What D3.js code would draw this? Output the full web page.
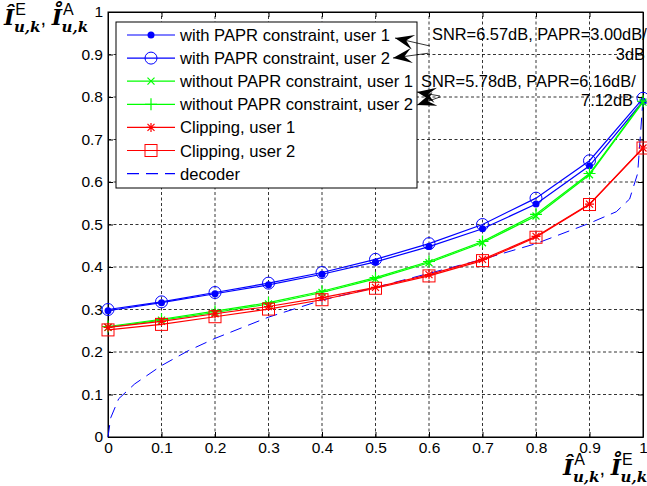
<!DOCTYPE html>
<html>
<head>
    <meta charset='utf-8'/>
    <title>EXIT chart</title>
    <style>
        body { margin: 0; background: #fff; }
        text { font-family: "Liberation Sans", Arial, sans-serif; }
        .grid line { stroke: #000; stroke-dasharray: 3,2.5; stroke-width: 0.8; }
        .math { font-family: "DejaVu Serif", "Liberation Serif", serif; font-style: italic; font-weight: bold; }
    </style>
</head>
<body>
<div id="chart"></div>
<script src="https://d3js.org/d3.v7.min.js"></script>
<script type="text/javascript">

    // data
    var xs = [0, 0.1, 0.2, 0.3, 0.4, 0.5, 0.6, 0.7, 0.8, 0.9, 1.0];
    var papr_u1 = [0.297, 0.316, 0.337, 0.358, 0.383, 0.412, 0.448, 0.490, 0.548, 0.638, 0.790];
    var papr_u2 = [0.300, 0.318, 0.340, 0.362, 0.387, 0.418, 0.455, 0.500, 0.562, 0.650, 0.797];
    var nopapr_u1 = [0.258, 0.275, 0.293, 0.313, 0.340, 0.372, 0.410, 0.457, 0.520, 0.617, 0.788];
    var nopapr_u2 = [0.260, 0.277, 0.296, 0.316, 0.343, 0.375, 0.413, 0.460, 0.524, 0.620, 0.790];
    var clip_u1 = [0.258, 0.272, 0.290, 0.307, 0.328, 0.352, 0.382, 0.418, 0.472, 0.548, 0.680];
    var clip_u2 = [0.252, 0.265, 0.283, 0.301, 0.323, 0.350, 0.379, 0.415, 0.470, 0.547, 0.680];
    var dec_x = [0, 0.005, 0.02, 0.05, 0.1, 0.15, 0.2, 0.3, 0.4, 0.5, 0.6, 0.7, 0.8, 0.9, 0.95, 0.975, 0.99, 1.0];
    var dec_y = [0, 0.045, 0.09, 0.125, 0.168, 0.203, 0.232, 0.282, 0.322, 0.352, 0.385, 0.418, 0.455, 0.503, 0.53, 0.56, 0.62, 0.795];
    var ticks = [0, 0.1, 0.2, 0.3, 0.4, 0.5, 0.6, 0.7, 0.8, 0.9, 1];
    var tickLabels = ["0", "0.1", "0.2", "0.3", "0.4", "0.5", "0.6", "0.7", "0.8", "0.9", "1"];

    var series = [
        {name: "with PAPR constraint, user 1", vals: papr_u1, color: "#0000ff", marker: "dot"},
        {name: "with PAPR constraint, user 2", vals: papr_u2, color: "#0000ff", marker: "circle"},
        {name: "without PAPR constraint, user 1", vals: nopapr_u1, color: "#00ff00", marker: "x"},
        {name: "without PAPR constraint, user 2", vals: nopapr_u2, color: "#00ff00", marker: "plus"},
        {name: "Clipping, user 1", vals: clip_u1, color: "#ff0000", marker: "star"},
        {name: "Clipping, user 2", vals: clip_u2, color: "#ff0000", marker: "square"}
    ];

    var svg_dx = 647, svg_dy = 486;
    var margin = {left: 108, right: 4, top: 12, bottom: 49};

    var x = d3.scaleLinear().domain([0, 1]).range([margin.left, svg_dx - margin.right]),
        y = d3.scaleLinear().domain([0, 1]).range([svg_dy - margin.bottom, margin.top]);

    var svg = d3.select("#chart").append("svg")
        .attr("width", svg_dx).attr("height", svg_dy);

    // grid
    var grid = svg.append("g").attr("class", "grid");
    grid.selectAll(".gx").data(ticks.slice(1, -1)).enter().append("line")
        .attr("x1", d => x(d)).attr("x2", d => x(d))
        .attr("y1", y(0)).attr("y2", y(1));
    grid.selectAll(".gy").data(ticks.slice(1, -1)).enter().append("line")
        .attr("y1", d => y(d)).attr("y2", d => y(d))
        .attr("x1", x(0)).attr("x2", x(1));

    // axes, ticks inward on all sides
    var fmt = (d, i) => tickLabels[i];
    svg.append("g").attr("transform", "translate(0," + y(0) + ")")
        .call(d3.axisBottom(x).tickValues(ticks).tickFormat(fmt).tickSizeInner(-5).tickSizeOuter(0).tickPadding(5));
    svg.append("g").attr("transform", "translate(" + x(0) + ",0)")
        .call(d3.axisLeft(y).tickValues(ticks).tickFormat(fmt).tickSizeInner(-5).tickSizeOuter(0).tickPadding(5));
    svg.append("g").attr("transform", "translate(0," + y(1) + ")")
        .call(d3.axisTop(x).tickValues(ticks).tickFormat("").tickSizeInner(-5).tickSizeOuter(0));
    svg.append("g").attr("transform", "translate(" + x(1) + ",0)")
        .call(d3.axisRight(y).tickValues(ticks).tickFormat("").tickSizeInner(-5).tickSizeOuter(0));
    svg.selectAll(".tick text").style("font-size", "15.5px").style("font-family", "Liberation Sans, Arial, sans-serif");
    svg.selectAll(".domain").attr("stroke-width", 1);
    svg.append("rect").attr("x", x(0)).attr("y", y(1))
        .attr("width", x(1) - x(0)).attr("height", y(0) - y(1))
        .attr("fill", "none").attr("stroke", "#000").attr("stroke-width", 1);

    function drawMarker(g, type, cx, cy, color) {
        if (type === "dot") {
            g.append("circle").attr("cx", cx).attr("cy", cy).attr("r", 3.5).attr("fill", color);
        } else if (type === "circle") {
            g.append("circle").attr("cx", cx).attr("cy", cy).attr("r", 6).attr("fill", "none").attr("stroke", color);
        } else if (type === "square") {
            g.append("rect").attr("x", cx - 6).attr("y", cy - 6).attr("width", 12).attr("height", 12)
                .attr("fill", "none").attr("stroke", color);
        } else {
            var p = "";
            if (type === "x" || type === "star") {
                var a = 3.5;
                p += "M" + (cx - a) + "," + (cy - a) + "L" + (cx + a) + "," + (cy + a) +
                    "M" + (cx - a) + "," + (cy + a) + "L" + (cx + a) + "," + (cy - a);
            }
            if (type === "plus" || type === "star") {
                var b = type === "plus" ? 6 : 4.5;
                p += "M" + (cx - b) + "," + cy + "L" + (cx + b) + "," + cy +
                    "M" + cx + "," + (cy - b) + "L" + cx + "," + (cy + b);
            }
            g.append("path").attr("d", p).attr("stroke", color).attr("stroke-width", 1.2).attr("fill", "none");
        }
    }

    var line = d3.line().x(d => x(d[0])).y(d => y(d[1]));
    var plot = svg.append("g");

    // decoder curve
    plot.append("path")
        .attr("d", line(dec_x.map((d, i) => [d, dec_y[i]])))
        .attr("fill", "none").attr("stroke", "#0000ff").attr("stroke-width", 1)
        .attr("stroke-dasharray", "12,7");

    series.forEach(s => {
        var g = plot.append("g");
        g.append("path")
            .attr("d", line(xs.map((d, i) => [d, s.vals[i]])))
            .attr("fill", "none").attr("stroke", s.color).attr("stroke-width", 1.2);
        xs.forEach((d, i) => drawMarker(g, s.marker, x(d), y(s.vals[i]), s.color));
    });

    // legend
    var lg = svg.append("g");
    var lx = 116, ly = 22, lrow = 23.1;
    lg.append("rect").attr("x", lx).attr("y", ly).attr("width", 301).attr("height", 166)
        .attr("fill", "#fff").attr("stroke", "#000").attr("stroke-width", 1);
    var entries = series.map(s => ({name: s.name, color: s.color, marker: s.marker}))
        .concat([{name: "decoder", color: "#0000ff", marker: null}]);
    entries.forEach((e, i) => {
        var cy = ly + 13 + i * lrow;
        var g = lg.append("g");
        g.append("line").attr("x1", lx + 11).attr("x2", lx + 59).attr("y1", cy).attr("y2", cy)
            .attr("stroke", e.color).attr("stroke-width", 1.2)
            .attr("stroke-dasharray", e.marker ? null : "12,7");
        if (e.marker) drawMarker(g, e.marker, lx + 35, cy, e.color);
        g.append("text").attr("x", lx + 64).attr("y", cy + 6)
            .style("font-size", "16.6px").text(e.name);
    });

    // annotations
    var ann = svg.append("g").style("font-size", "16.4px");
    ann.append("text").attr("x", 432).attr("y", 40).text("SNR=6.57dB, PAPR=3.00dB/");
    ann.append("text").attr("x", 645).attr("y", 60).attr("text-anchor", "end").text("3dB");
    ann.append("text").attr("x", 421).attr("y", 87).text("SNR=5.78dB, PAPR=6.16dB/");
    ann.append("text").attr("x", 633).attr("y", 106).attr("text-anchor", "end").text("7.12dB");

    function arrow(x1, y1, x2, y2) {
        ann.append("line").attr("x1", x1).attr("y1", y1).attr("x2", x2).attr("y2", y2)
            .attr("stroke", "#000").attr("stroke-width", 0.8);
        var ang = Math.atan2(y2 - y1, x2 - x1), L = 19, W = 7.5;
        var bx = x2 - L * Math.cos(ang), by = y2 - L * Math.sin(ang);
        var px = -Math.sin(ang) * W, py = Math.cos(ang) * W;
        ann.append("path")
            .attr("d", "M" + x2 + "," + y2 + "L" + (bx + px) + "," + (by + py) +
                "L" + (x2 - 0.6 * L * Math.cos(ang)) + "," + (y2 - 0.6 * L * Math.sin(ang)) +
                "L" + (bx - px) + "," + (by - py) + "Z")
            .attr("fill", "#000");
    }
    arrow(430, 46, 395, 38);
    arrow(430, 53, 393, 58);
    arrow(440, 96, 417, 92);
    arrow(440, 97, 417, 105);

    // axis labels
    function mathLabel(xp, yp, sup1, sup2) {
        var t = svg.append("text").attr("x", xp).attr("y", yp).style("font-size", "22px");
        t.append("tspan").attr("class", "math").text("\u00CE");
        t.append("tspan").attr("dy", -10).attr("dx", 1).style("font-size", "16px").text(sup1);
        t.append("tspan").attr("class", "math").attr("dx", -12).attr("dy", 17).style("font-size", "15px").text("u,k");
        t.append("tspan").attr("dy", -7).style("font-size", "20px").text(", ");
        t.append("tspan").attr("class", "math").text("I\u030A");
        t.append("tspan").attr("dy", -10).attr("dx", 1).style("font-size", "16px").text(sup2);
        t.append("tspan").attr("class", "math").attr("dx", -12).attr("dy", 17).style("font-size", "15px").text("u,k");
    }
    mathLabel(4, 25, "E", "A");
    mathLabel(563, 475, "A", "E");

</script>
</body>
</html>
